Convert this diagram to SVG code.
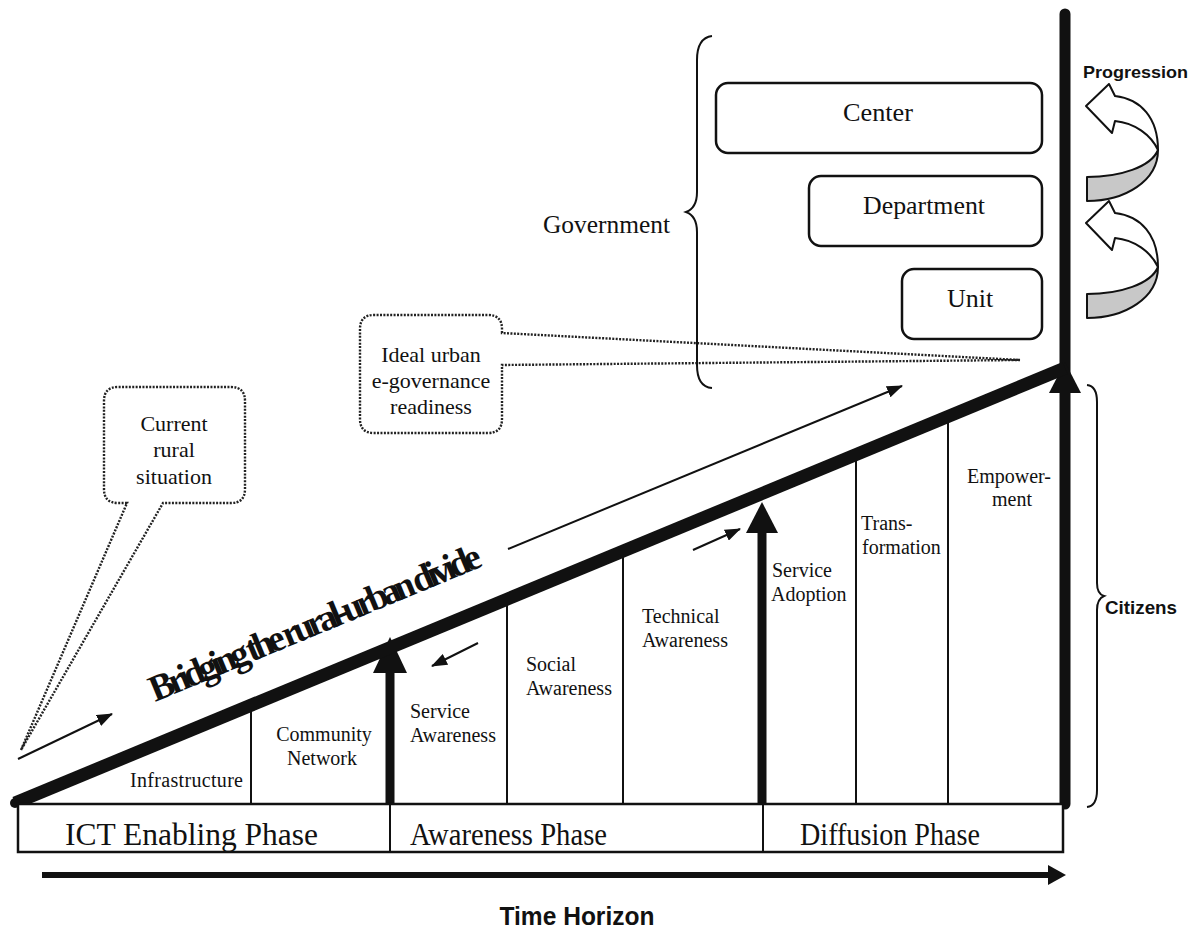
<svg xmlns="http://www.w3.org/2000/svg" width="1197" height="930" viewBox="0 0 1197 930">
<style>
.serif{font-family:"Liberation Serif","Times New Roman",serif;fill:#111}
.sans{font-family:"Liberation Sans",Arial,sans-serif;fill:#111}
.cell{font-size:20px}
.phase{font-size:31px}
.gov{font-size:26px}
.call{font-size:22px}
.box{fill:#fff;stroke:#111;stroke-width:2.5}
.thin{stroke:#111;stroke-width:2;fill:none}
.dot{fill:none;stroke:#222;stroke-width:2.4;stroke-dasharray:2 1.4}
.brace{fill:none;stroke:#111;stroke-width:2}
.sm{stroke:#111;stroke-width:2;fill:none;marker-end:url(#ah)}
.prog-w{fill:#fff;stroke:#111;stroke-width:2;stroke-linejoin:round}
.prog-g{fill:#c8c8c8;stroke:#111;stroke-width:2;stroke-linejoin:round}
</style>
<defs>
<marker id="ah" viewBox="0 0 16 12" refX="15" refY="6" markerWidth="16" markerHeight="12" orient="auto" markerUnits="userSpaceOnUse">
<path d="M0,0 L16,6 L0,12 z" fill="#111"/>
</marker>
<g id="progArrow">
<path class="prog-w" d="M1158 150 C1158 118 1141 99 1115 96 L1109 84 L1086 106 L1112 133 L1115 121 C1135 123 1151 135 1158 150 Z"/>
<path class="prog-g" d="M1158 150 C1158 181 1125 201 1087 201 L1087 177 C1120 177 1151 167 1158 150 Z"/>
</g>
</defs>
<rect width="1197" height="930" fill="#fff"/>

<g id="connectors">
<line class="thin" x1="251" y1="706" x2="251" y2="804"/>
<line class="thin" x1="507" y1="599" x2="507" y2="804"/>
<line class="thin" x1="623" y1="551" x2="623" y2="804"/>
<line class="thin" x1="856" y1="455" x2="856" y2="804"/>
<line class="thin" x1="948" y1="417" x2="948" y2="804"/>
<line x1="390" y1="668" x2="390" y2="804" stroke="#111" stroke-width="9"/>
<polygon points="390,637 407,673 373,673" fill="#111"/>
<line x1="762" y1="528" x2="762" y2="804" stroke="#111" stroke-width="9"/>
<polygon points="762,502 778,533 746,533" fill="#111"/>
<line x1="1065" y1="14" x2="1065" y2="804" stroke="#111" stroke-width="11" stroke-linecap="round"/>
<polygon points="1065,362 1081,393 1049,393" fill="#111"/>
<line x1="15" y1="803" x2="1065" y2="368" stroke="#111" stroke-width="13"/>
<circle cx="15" cy="803" r="5" fill="#111"/>
<line class="sm" x1="18" y1="759" x2="112" y2="714"/>
<line class="sm" x1="508" y1="549" x2="902" y2="386"/>
<line class="sm" x1="478" y1="643" x2="432" y2="666"/>
<line class="sm" x1="693" y1="550" x2="740" y2="529"/>
<line x1="42" y1="875" x2="1052" y2="875" stroke="#111" stroke-width="6"/>
<polygon points="1066,875 1048,865 1048,885" fill="#111"/>
</g>

<g id="bridging">
<text class="serif" x="155" y="702" font-size="37" font-weight="bold" textLength="356" lengthAdjust="spacing" transform="rotate(-22.5 155 702)">Bridging the rural-urban divide</text>
</g>

<g id="phases">
<rect class="box" x="18" y="804" width="1045" height="48"/>
<line class="thin" x1="390" y1="804" x2="390" y2="852"/>
<line class="thin" x1="763" y1="804" x2="763" y2="852"/>
<text class="serif phase" x="65" y="845" textLength="253" lengthAdjust="spacingAndGlyphs">ICT Enabling Phase</text>
<text class="serif phase" x="410" y="845" textLength="197" lengthAdjust="spacingAndGlyphs">Awareness Phase</text>
<text class="serif phase" x="800" y="845" textLength="180" lengthAdjust="spacingAndGlyphs">Diffusion Phase</text>
</g>

<g id="cell-infrastructure"><text class="serif cell" x="130" y="787" textLength="113">Infrastructure</text></g>
<g id="cell-community" text-anchor="middle"><text class="serif cell" x="324" y="741">Community</text><text class="serif cell" x="322" y="765">Network</text></g>
<g id="cell-service-awareness"><text class="serif cell" x="410" y="718">Service</text><text class="serif cell" x="410" y="742">Awareness</text></g>
<g id="cell-social"><text class="serif cell" x="526" y="671">Social</text><text class="serif cell" x="526" y="695">Awareness</text></g>
<g id="cell-technical"><text class="serif cell" x="642" y="623">Technical</text><text class="serif cell" x="642" y="647">Awareness</text></g>
<g id="cell-adoption"><text class="serif cell" x="772" y="577">Service</text><text class="serif cell" x="771" y="601">Adoption</text></g>
<g id="cell-transformation"><text class="serif cell" x="861" y="530">Trans-</text><text class="serif cell" x="862" y="554">formation</text></g>
<g id="cell-empowerment" text-anchor="middle"><text class="serif cell" x="1009" y="483">Empower-</text><text class="serif cell" x="1012" y="506">ment</text></g>

<g id="callout-rural">
<path class="dot" d="M127 503 L118 503 Q104 503 104 489 L104 401 Q104 387 118 387 L231 387 Q245 387 245 401 L245 489 Q245 503 231 503 L163 503 L21 750 Z"/>
<text class="serif call" text-anchor="middle" x="174" y="431">Current</text>
<text class="serif call" text-anchor="middle" x="174" y="457">rural</text>
<text class="serif call" text-anchor="middle" x="174" y="484">situation</text>
</g>

<g id="callout-urban">
<path class="dot" d="M502 333 L502 329 Q502 315 488 315 L374 315 Q360 315 360 329 L360 419 Q360 433 374 433 L488 433 Q502 433 502 419 L502 365 L1020 360 Z"/>
<text class="serif call" text-anchor="middle" x="431" y="362">Ideal urban</text>
<text class="serif call" text-anchor="middle" x="431" y="388">e-governance</text>
<text class="serif call" text-anchor="middle" x="431" y="414">readiness</text>
</g>

<g id="government">
<path class="brace" d="M712 36 Q697 38 697 60 L697 192 Q697 208 686 212 Q697 216 697 232 L697 365 Q697 387 712 388"/>
<text class="serif gov" x="543" y="233" font-size="24" textLength="127" lengthAdjust="spacingAndGlyphs">Government</text>
</g>
<g id="center"><rect class="box" x="716" y="83" width="326" height="70" rx="12"/><text class="serif gov" x="878" y="121" text-anchor="middle" textLength="70" lengthAdjust="spacingAndGlyphs">Center</text></g>
<g id="department"><rect class="box" x="809" y="176" width="233" height="70" rx="12"/><text class="serif gov" x="924" y="214" text-anchor="middle" textLength="122" lengthAdjust="spacingAndGlyphs">Department</text></g>
<g id="unit"><rect class="box" x="902" y="269" width="140" height="70" rx="12"/><text class="serif gov" x="970" y="307" text-anchor="middle">Unit</text></g>

<g id="progression">
<text class="sans" x="1083" y="78" font-size="17" font-weight="bold" textLength="105" lengthAdjust="spacingAndGlyphs">Progression</text>
<use href="#progArrow"/>
<use href="#progArrow" transform="translate(0 117)"/>
</g>

<g id="citizens">
<path class="brace" d="M1087 385 Q1097 386 1097 402 L1097 583 Q1097 594 1104 596 Q1097 599 1097 610 L1097 790 Q1097 806 1087 807"/>
<text class="sans" x="1105" y="614" font-size="18" font-weight="bold" textLength="72" lengthAdjust="spacingAndGlyphs">Citizens</text>
</g>

<g id="time-horizon">
<text class="sans" x="577" y="925" font-size="25" font-weight="bold" text-anchor="middle" textLength="155" lengthAdjust="spacingAndGlyphs">Time Horizon</text>
</g>
</svg>
